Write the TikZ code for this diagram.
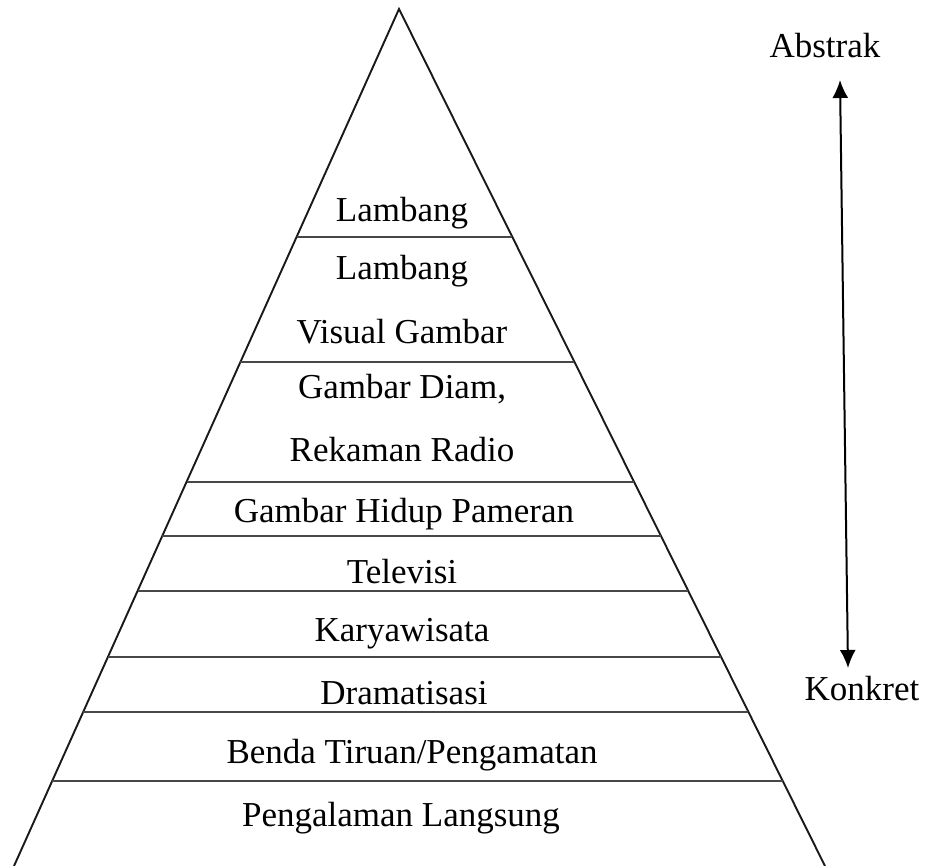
\documentclass[tikz,border=0pt]{standalone}
\usepackage{fontspec}
\setmainfont{Liberation Serif}
\usetikzlibrary{calc,arrows.meta}
\begin{document}
\begin{tikzpicture}[x=1pt,y=-1pt,
  edge/.style={line width=1.9pt,draw=black!90},
  tier/.style={line width=1.6pt,draw=black!72},
  lbl/.style={anchor=base,inner sep=0pt,font=\fontsize{35}{40}\selectfont,text=black},
  dblarrow/.style={line width=2pt,{Latex[length=18pt,width=16pt]}-{Latex[length=18pt,width=16pt]}}]
\useasboundingbox (0,0) rectangle (926,866);
\coordinate (apex) at (399,9);
\coordinate (bl) at (14,866);
\coordinate (br) at (825,866);
\draw[edge] (bl) -- (apex) -- (br);
\foreach \y in {237,362,482,536,591,657,712,781}{
  \draw[tier] ($(apex)!{(\y-9)/857}!(bl)$) -- ($(apex)!{(\y-9)/857}!(br)$);
}
\node[lbl] (l1) at (402,222) {Lambang};
\node[lbl] (l2a) at (402,280) {Lambang};
\node[lbl] (l2b) at (402,344) {Visual Gambar};
\node[lbl] (l3a) at (402,399) {Gambar Diam,};
\node[lbl] (l3b) at (402,461) {Rekaman Radio};
\node[lbl] (l4) at (404,522) {Gambar Hidup Pameran};
\node[lbl] (l5) at (402,583) {Televisi};
\node[lbl] (l6) at (402,641) {Karyawisata};
\node[lbl] (l7) at (404,704) {Dramatisasi};
\node[lbl] (l8) at (412,763) {Benda Tiruan/Pengamatan};
\node[lbl] (l9) at (401,826) {Pengalaman Langsung};
\node[lbl] (abs) at (825,58) {Abstrak};
\node[lbl] (kon) at (862,700) {Konkret};
\coordinate (atop) at (840,80);
\coordinate (abot) at (848,668);
\draw[dblarrow] (atop) -- (abot);
\end{tikzpicture}
\end{document}
